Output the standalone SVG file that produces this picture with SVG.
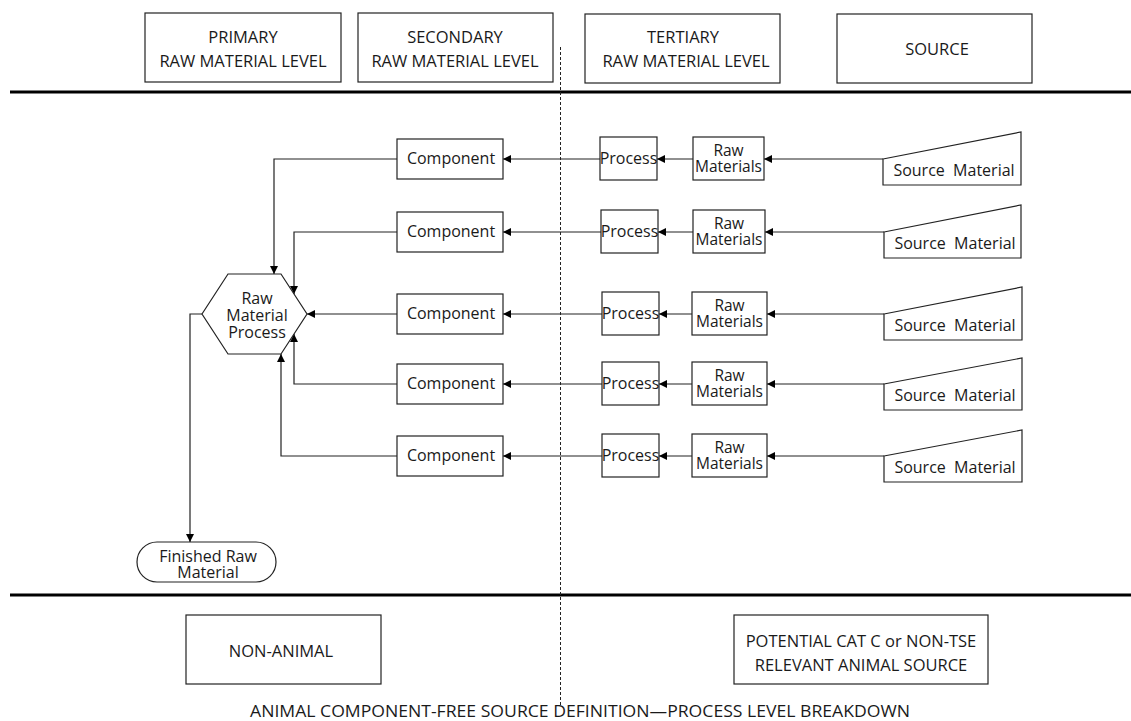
<svg xmlns="http://www.w3.org/2000/svg" width="1131" height="721" viewBox="0 0 1131 721">
<style>
text{font-family:"Open Sans","Noto Sans","Liberation Sans",sans-serif;fill:#1a1a1a;font-size:16px;text-anchor:middle}
.box{fill:#fff;stroke:#222;stroke-width:1.2}
.ln{fill:none;stroke:#222;stroke-width:1.2}
.thick{stroke:#000;stroke-width:3}
.hdr{font-size:16.5px}
.sm{font-size:15.5px}
</style>
<defs>
<marker id="ah" viewBox="0 0 10 10" refX="10" refY="5" markerWidth="8" markerHeight="8" markerUnits="userSpaceOnUse" orient="auto">
<path d="M0,0 L10,5 L0,10 z" fill="#000"/>
</marker>
</defs>
<rect width="1131" height="721" fill="#fff"/>

<g id="frame">
<line class="thick" x1="10" y1="92" x2="1131" y2="92"/>
<line class="thick" x1="10" y1="595" x2="1131" y2="595"/>
<line x1="560.5" y1="47" x2="560.5" y2="706" stroke="#222" stroke-width="1" stroke-dasharray="3,2"/>
</g>

<g id="hdr-primary"><rect class="box" x="145" y="13" width="196" height="69"/><text class="hdr" x="243" y="43">PRIMARY</text><text class="hdr" x="243" y="67">RAW MATERIAL LEVEL</text></g>
<g id="hdr-secondary"><rect class="box" x="358" y="13" width="195" height="69"/><text class="hdr" x="455" y="43">SECONDARY</text><text class="hdr" x="455" y="67">RAW MATERIAL LEVEL</text></g>
<g id="hdr-tertiary"><rect class="box" x="585" y="14" width="195" height="69"/><text class="hdr" x="683" y="43">TERTIARY</text><text class="hdr" x="686" y="67">RAW MATERIAL LEVEL</text></g>
<g id="hdr-source"><rect class="box" x="837" y="14" width="195" height="69"/><text class="hdr" x="937" y="55">SOURCE</text></g>

<g id="connectors">
<line class="ln" x1="883" y1="159" x2="764" y2="159" marker-end="url(#ah)"/>
<line class="ln" x1="884" y1="232" x2="765" y2="232" marker-end="url(#ah)"/>
<line class="ln" x1="884" y1="314" x2="767" y2="314" marker-end="url(#ah)"/>
<line class="ln" x1="884" y1="384" x2="767" y2="384" marker-end="url(#ah)"/>
<line class="ln" x1="884" y1="456" x2="767" y2="456" marker-end="url(#ah)"/>
<line class="ln" x1="693" y1="159" x2="657" y2="159" marker-end="url(#ah)"/>
<line class="ln" x1="693" y1="232" x2="658" y2="232" marker-end="url(#ah)"/>
<line class="ln" x1="692" y1="314" x2="659" y2="314" marker-end="url(#ah)"/>
<line class="ln" x1="692" y1="384" x2="659" y2="384" marker-end="url(#ah)"/>
<line class="ln" x1="692" y1="456" x2="659" y2="456" marker-end="url(#ah)"/>
<line class="ln" x1="600" y1="159" x2="503" y2="159" marker-end="url(#ah)"/>
<line class="ln" x1="601" y1="232" x2="503" y2="232" marker-end="url(#ah)"/>
<line class="ln" x1="602" y1="314" x2="503" y2="314" marker-end="url(#ah)"/>
<line class="ln" x1="602" y1="384" x2="503" y2="384" marker-end="url(#ah)"/>
<line class="ln" x1="602" y1="456" x2="503" y2="456" marker-end="url(#ah)"/>
<polyline class="ln" points="397,159 274,159 274,274" marker-end="url(#ah)"/>
<polyline class="ln" points="397,232 294,232 294,294" marker-end="url(#ah)"/>
<line class="ln" x1="397" y1="314" x2="307" y2="314" marker-end="url(#ah)"/>
<polyline class="ln" points="397,384 294,384 294,334" marker-end="url(#ah)"/>
<polyline class="ln" points="397,456 281,456 281,354" marker-end="url(#ah)"/>
<polyline class="ln" points="202,314 190,314 190,542" marker-end="url(#ah)"/>
</g>

<g id="rm-process"><polygon class="box" points="202,314 228,274 281,274 307,314 281,354 228,354"/><text x="257" y="304">Raw</text><text x="257" y="321">Material</text><text x="257" y="338">Process</text></g>
<g id="finished"><rect class="box" x="137" y="542" width="139" height="40" rx="20" ry="20"/><text x="208" y="562">Finished Raw</text><text x="208" y="578">Material</text></g>

<g id="comp1"><rect class="box" x="397" y="139" width="106" height="40"/><text x="451" y="164">Component</text></g>
<g id="comp2"><rect class="box" x="397" y="212" width="106" height="40"/><text x="451" y="237">Component</text></g>
<g id="comp3"><rect class="box" x="397" y="294" width="106" height="40"/><text x="451" y="319">Component</text></g>
<g id="comp4"><rect class="box" x="397" y="364" width="106" height="40"/><text x="451" y="389">Component</text></g>
<g id="comp5"><rect class="box" x="397" y="436" width="106" height="40"/><text x="451" y="461">Component</text></g>

<g id="proc1"><rect class="box" x="600" y="137" width="57" height="43"/><text x="628.5" y="164">Process</text></g>
<g id="proc2"><rect class="box" x="601" y="210" width="57" height="43"/><text x="629.5" y="237">Process</text></g>
<g id="proc3"><rect class="box" x="602" y="292" width="57" height="43"/><text x="630.5" y="319">Process</text></g>
<g id="proc4"><rect class="box" x="602" y="362" width="57" height="43"/><text x="630.5" y="389">Process</text></g>
<g id="proc5"><rect class="box" x="602" y="434" width="57" height="43"/><text x="630.5" y="461">Process</text></g>

<g id="raw1"><rect class="box" x="693" y="137" width="71" height="43"/><text class="sm" x="728.5" y="156">Raw</text><text class="sm" x="728.5" y="172">Materials</text></g>
<g id="raw2"><rect class="box" x="693" y="210" width="72" height="43"/><text class="sm" x="729" y="229">Raw</text><text class="sm" x="729" y="245">Materials</text></g>
<g id="raw3"><rect class="box" x="692" y="292" width="75" height="43"/><text class="sm" x="729.5" y="311">Raw</text><text class="sm" x="729.5" y="327">Materials</text></g>
<g id="raw4"><rect class="box" x="692" y="362" width="75" height="43"/><text class="sm" x="729.5" y="381">Raw</text><text class="sm" x="729.5" y="397">Materials</text></g>
<g id="raw5"><rect class="box" x="692" y="434" width="75" height="43"/><text class="sm" x="729.5" y="453">Raw</text><text class="sm" x="729.5" y="469">Materials</text></g>

<g id="src1"><polygon class="box" points="883,159 1021,132 1021,185 883,185"/><text x="954" y="176" xml:space="preserve">Source  Material</text></g>
<g id="src2"><polygon class="box" points="884,232 1021,205 1021,258 884,258"/><text x="955" y="249" xml:space="preserve">Source  Material</text></g>
<g id="src3"><polygon class="box" points="884,314 1022,287 1022,340 884,340"/><text x="955" y="331" xml:space="preserve">Source  Material</text></g>
<g id="src4"><polygon class="box" points="884,384 1022,358 1022,410 884,410"/><text x="955" y="401" xml:space="preserve">Source  Material</text></g>
<g id="src5"><polygon class="box" points="884,456 1022,430 1022,482 884,482"/><text x="955" y="473" xml:space="preserve">Source  Material</text></g>

<g id="non-animal"><rect class="box" x="186" y="615" width="195" height="69"/><text class="hdr" x="281" y="657">NON-ANIMAL</text></g>
<g id="potential"><rect class="box" x="734" y="615" width="254" height="69"/><text class="hdr" x="861" y="647">POTENTIAL CAT C or NON-TSE</text><text class="hdr" x="861" y="671">RELEVANT ANIMAL SOURCE</text></g>

<text x="580" y="717" font-size="18" textLength="660" lengthAdjust="spacingAndGlyphs">ANIMAL COMPONENT-FREE SOURCE DEFINITION—PROCESS LEVEL BREAKDOWN</text>
</svg>
